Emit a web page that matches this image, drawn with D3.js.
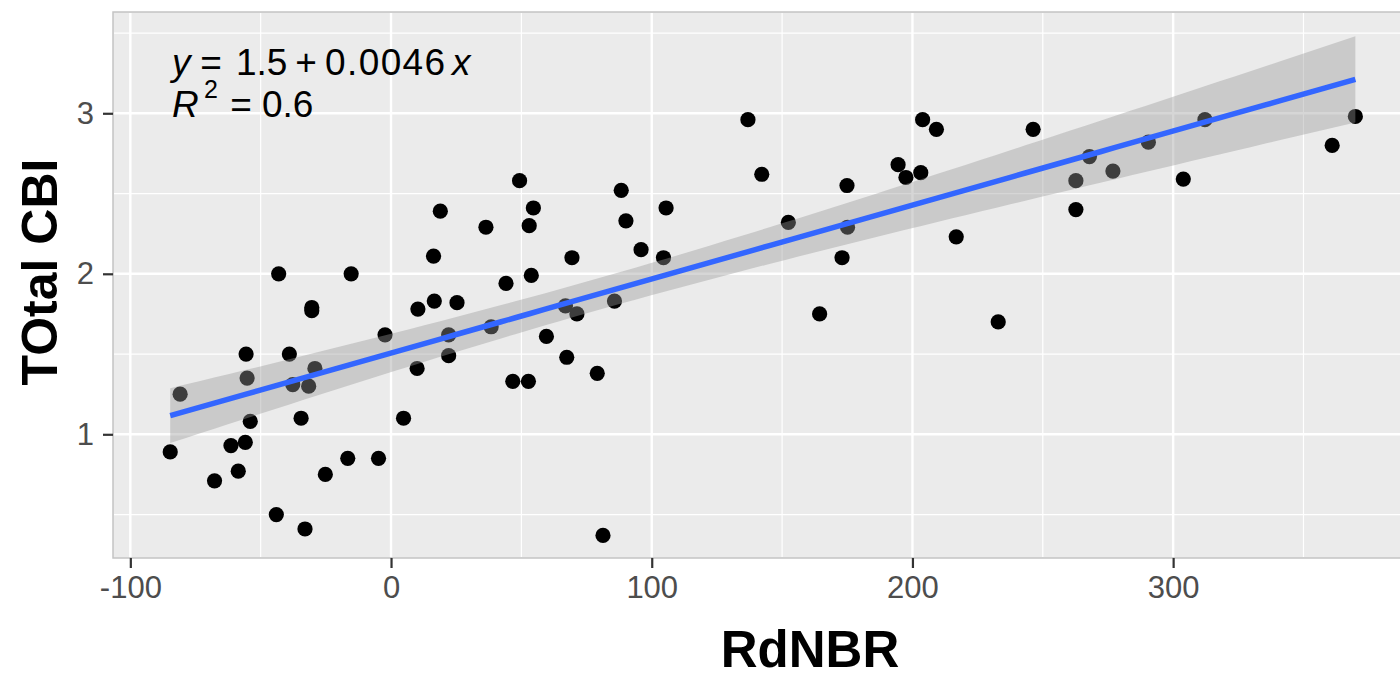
<!DOCTYPE html>
<html>
<head>
<meta charset="utf-8">
<script src="https://cdn.jsdelivr.net/npm/d3@7"></script>
<style>
  html, body { margin: 0; padding: 0; background: #fff; }
  svg { display: block; font-family: "Liberation Sans", Arial, sans-serif; }
</style>
</head>
<body>
<svg id="chart" width="1400" height="674"></svg>
<script>
// RdNBR vs Total CBI
const rdnbr = [
  -43.1, -15.3, 18.9, 16.3, -30.4, -30.4, 10.3, 16.6, 25.3, -2.3,
  22.1, 22.1, 10.0, -55.6, -39.0, -80.9, -55.2, -29.2, -37.7, -31.6,
  -54.0, -34.5, 4.8, -84.7, -61.4, -55.9, -67.7, -58.6, -25.2, -16.6,
  -4.8, -44.0, -33.0, 36.4, 49.3, 54.6, 53.0, 44.1, 53.8, 69.4,
  88.3, 90.1, 95.9, 105.5, 104.5, 136.9, 142.2, 152.4, 174.9, 175.1,
  173.0, 194.5, 197.5, 203.2, 203.9, 209.2, 38.4, 66.9, 71.3, 85.7,
  59.6, 67.4, 79.1, 46.7, 52.7, 81.3, 164.4, 216.8, 246.3, 267.9,
  262.7, 276.9, 262.7, 290.5, 303.9, 312.2, 361.0, 369.9, 232.9
];
const cbi = [
  2.00, 2.00, 2.39, 2.11, 1.79, 1.77, 1.78, 1.83, 1.82, 1.62,
  1.62, 1.49, 1.41, 1.50, 1.50, 1.25, 1.35, 1.41, 1.31, 1.30,
  1.08, 1.10, 1.10, 0.89, 0.93, 0.95, 0.71, 0.77, 0.75, 0.85,
  0.85, 0.50, 0.41, 2.29, 2.58, 2.41, 2.30, 1.94, 1.99, 2.10,
  2.52, 2.33, 2.15, 2.41, 2.10, 2.96, 2.62, 2.32, 2.55, 2.29,
  2.10, 2.68, 2.60, 2.63, 2.96, 2.90, 1.67, 1.80, 1.75, 1.83,
  1.61, 1.48, 1.38, 1.33, 1.33, 0.37, 1.75, 2.23, 2.90, 2.73,
  2.58, 2.64, 2.40, 2.82, 2.59, 2.96, 2.80, 2.98, 1.70
];
const xTicks = [-100, 0, 100, 200, 300];
const xMinor = [-50, 50, 150, 250, 350];
const yTicks = [1, 2, 3];
const yMinor = [0.5, 1.5, 2.5, 3.5];
// equation label pieces: [text, italic, offset from label start, anchor]
const eqLine1 = [["y", true, 0, "start"], ["=", false, 39, "middle"], ["1.5", false, 64, "start"],
                 ["+", false, 134, "middle"], ["0.0046", false, 153, "start"], ["x", true, 280, "start"]];
const eqLine2 = [["R", true, 0, "start"], ["=", false, 69, "middle"], ["0.6", false, 90, "start"]];

const width = 1400, height = 674;
const margin = { top: 12, left: 113, bottom: 116 };
const svg = d3.select("#chart");

const x = d3.scaleLinear().domain([-106.65, 393]).range([margin.left, margin.left + 499.65 * 2.607]);
const y = d3.scaleLinear().domain([0.2293, 3.631]).range([height - margin.bottom, margin.top]);

const pTop = y.range()[1], pBot = y.range()[0];
const pLeft = x.range()[0], pRight = x.range()[1];

// panel
svg.append("rect")
  .attr("x", pLeft).attr("y", pTop)
  .attr("width", pRight - pLeft).attr("height", pBot - pTop)
  .style("fill", "#ebebeb")
  .style("stroke", "#c4c4c4")
  .style("stroke-width", 1.5);

const grid = svg.append("g");
xMinor.forEach(v => {
  grid.append("line").attr("x1", x(v)).attr("x2", x(v)).attr("y1", pTop + 1).attr("y2", pBot - 1)
    .style("stroke", "#fff").style("stroke-width", 1.2);
});
yMinor.forEach(v => {
  grid.append("line").attr("x1", pLeft + 1).attr("x2", pRight).attr("y1", y(v)).attr("y2", y(v))
    .style("stroke", "#fff").style("stroke-width", 1.2);
});
xTicks.forEach(v => {
  grid.append("line").attr("x1", x(v)).attr("x2", x(v)).attr("y1", pTop + 1).attr("y2", pBot - 1)
    .style("stroke", "#fff").style("stroke-width", 2.4);
});
yTicks.forEach(v => {
  grid.append("line").attr("x1", pLeft + 1).attr("x2", pRight).attr("y1", y(v)).attr("y2", y(v))
    .style("stroke", "#fff").style("stroke-width", 2.4);
});

// points
const pts = rdnbr.map((d, i) => ({ x: d, y: cbi[i] }));
svg.append("g").selectAll("circle")
  .data(pts)
  .enter()
  .append("circle")
  .attr("cx", d => x(d.x))
  .attr("cy", d => y(d.y))
  .attr("r", 7.6)
  .style("fill", "#000");

// linear fit with 95% confidence band (like geom_smooth(method = "lm"))
const n = pts.length;
const mx = d3.mean(pts, d => d.x), my = d3.mean(pts, d => d.y);
const sxx = d3.sum(pts, d => (d.x - mx) * (d.x - mx));
const sxy = d3.sum(pts, d => (d.x - mx) * (d.y - my));
const slope = sxy / sxx, icpt = my - slope * mx;
const sse = d3.sum(pts, d => Math.pow(d.y - (icpt + slope * d.x), 2));
const s = Math.sqrt(sse / (n - 2));
const tq = 1.991;
const xr = d3.extent(pts, d => d.x);
const fit = d3.range(80).map(i => {
  let xv = xr[0] + (xr[1] - xr[0]) * i / 79;
  let yv = icpt + slope * xv;
  let se = s * Math.sqrt(1 / n + (xv - mx) * (xv - mx) / sxx);
  return { x: xv, y: yv, lo: yv - tq * se, hi: yv + tq * se };
});

svg.append("path")
  .datum(fit)
  .attr("d", d3.area().x(d => x(d.x)).y0(d => y(d.lo)).y1(d => y(d.hi)))
  .style("fill", "#999999")
  .style("fill-opacity", 0.4);

svg.append("path")
  .datum(fit)
  .attr("d", d3.line().x(d => x(d.x)).y(d => y(d.y)))
  .style("fill", "none")
  .style("stroke", "#3366ff")
  .style("stroke-width", 5.5);

// axes
const xAxis = svg.append("g")
  .attr("transform", "translate(0," + pBot + ")")
  .call(d3.axisBottom(x).tickValues(xTicks).tickSize(10).tickPadding(8).tickFormat(d => d < 0 ? "-" + Math.abs(d) : d));
const yAxis = svg.append("g")
  .attr("transform", "translate(" + pLeft + ",0)")
  .call(d3.axisLeft(y).tickValues(yTicks).tickSize(10).tickPadding(9).tickFormat(d3.format("d")));
[xAxis, yAxis].forEach(a => {
  a.select(".domain").remove();
  a.selectAll(".tick line").style("stroke", "#333").style("stroke-width", 2.2);
  a.selectAll(".tick text").style("fill", "#4d4d4d").style("font-size", "31px")
    .style("font-family", "Liberation Sans, Arial, sans-serif");
});

// axis titles
svg.append("text")
  .text("RdNBR")
  .attr("x", 810).attr("y", 667)
  .attr("text-anchor", "middle")
  .style("font-size", "51px")
  .style("font-weight", "bold");

svg.append("text")
  .text("TOtal CBI")
  .attr("transform", "translate(57,272) rotate(-90)")
  .attr("text-anchor", "middle")
  .style("font-size", "50px")
  .style("font-weight", "bold");

// equation label
const eqX = 172;
const eq = svg.append("g").style("font-size", "37px").style("fill", "#000");
const t1 = eq.append("text").attr("y", 75);
eqLine1.forEach(p => {
  t1.append("tspan").attr("x", eqX + p[2]).attr("text-anchor", p[3]).text(p[0])
    .style("font-style", p[1] ? "italic" : "normal")
    .style("letter-spacing", p[0].length > 3 ? "1.4px" : null);
});
const t2 = eq.append("text").attr("y", 117);
eqLine2.forEach(p => {
  t2.append("tspan").attr("x", eqX + p[2]).attr("text-anchor", p[3]).text(p[0])
    .style("font-style", p[1] ? "italic" : "normal");
});
eq.append("text")
  .text("2")
  .attr("x", eqX + 32).attr("y", 98)
  .style("font-size", "25px");
</script>
</body>
</html>
